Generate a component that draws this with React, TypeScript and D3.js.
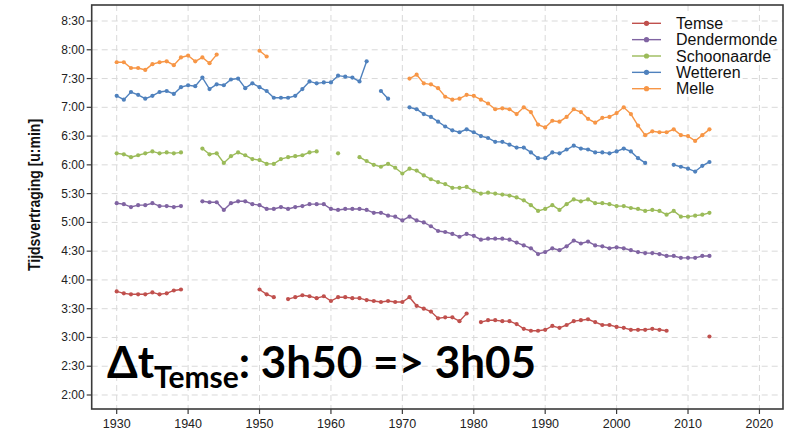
import React, { useEffect, useRef } from 'react';
import * as d3 from 'd3';

// tijdsvertraging in minuten, één waarde per jaar 1930..2013 (null = geen meting)
const startYear = 1930;
const endYear = 2013;

const temse = [
  228, 226, 225, 225, 225, 227, 225, 226, 229, 230,
  null, null, null, null, null, null, null, null, null, null,
  230, 225, 222, null, 220, 222, 224, 223, 221, 223,
  218, 222, 222, 221, 221, 219, 218, 217, 218, 217,
  217, 222, 213, 210, 207, 200, 201, 201, 197, 205,
  null, 196, 198, 198, 197, 197, 194, 189, 187, 187,
  188, 192, 190, 193, 197, 198, 199, 196, 193, 193,
  191, 190, 188, 188, 188, 189, 188, 187, null, null,
  null, null, null, 181,
];

const dendermonde = [
  320, 319, 316, 318, 318, 320, 317, 317, 316, 317,
  null, null, 322, 321, 321, 313, 320, 322, 322, 319,
  318, 314, 314, 316, 314, 316, 317, 319, 319, 319,
  314, 313, 314, 314, 314, 313, 310, 310, 307, 306,
  302, 306, 302, 300, 296, 291, 290, 288, 285, 288,
  286, 282, 283, 283, 283, 282, 279, 276, 273, 267,
  269, 273, 271, 275, 281, 278, 280, 276, 275, 273,
  274, 273, 271, 269, 268, 268, 267, 265, 265, 263,
  263, 263, 265, 265,
];

const schoonaarde = [
  372, 371, 368, 370, 372, 374, 372, 373, 372, 373,
  null, null, 377, 371, 372, 362, 369, 373, 370, 366,
  365, 361, 361, 366, 368, 369, 370, 373, 374, null,
  null, 372, null, null, 368, 364, 360, 358, 361, 357,
  351, 356, 354, 349, 345, 342, 340, 336, 336, 337,
  333, 330, 331, 330, 329, 328, 326, 323, 318, 312,
  314, 318, 313, 319, 324, 322, 324, 320, 320, 319,
  317, 317, 315, 314, 312, 313, 312, 308, 312, 306,
  306, 307, 308, 310,
];

const wetteren = [
  432, 428, 436, 433, 429, 432, 436, 437, 434, 441,
  443, 442, 451, 439, 444, 443, 449, 450, 440, 445,
  441, 437, 430, 430, 430, 432, 439, 447, 445, 446,
  446, 453, 452, 451, 447, 468, null, 437, 429, null,
  null, 420, 418, 413, 410, 405, 400, 396, 394, 397,
  394, 390, 388, 384, 384, 381, 378, 378, 373, 367,
  367, 373, 372, 376, 380, 377, 376, 373, 373, 372,
  374, 377, 374, 367, 362, null, null, null, 360, 358,
  356, 353, 359, 363,
];

const melle = [
  467, 467, 461, 461, 459, 465, 467, 468, 464, 472,
  474, 468, 472, 466, 475, null, null, null, null, null,
  479, 473, null, null, null, null, null, null, null, null,
  null, null, null, null, null, null, null, null, null, null,
  null, 450, 454, 445, 444, 440, 431, 428, 429, 433,
  432, 428, 424, 418, 419, 418, 413, 420, 415, 402,
  399, 406, 405, 410, 418, 415, 408, 404, 409, 410,
  414, 420, 413, 401, 391, 395, 394, 394, 397, 391,
  390, 385, 391, 397,
];

const stations = ['Temse', 'Dendermonde', 'Schoonaarde', 'Wetteren', 'Melle'];
const stationValues = [temse, dendermonde, schoonaarde, wetteren, melle];
const stationColors = ['#C0504D', '#8064A2', '#9BBB59', '#4F81BD', '#F79646'];

const xTicks = [1930, 1940, 1950, 1960, 1970, 1980, 1990, 2000, 2010, 2020];
const yTicks = [120, 150, 180, 210, 240, 270, 300, 330, 360, 390, 420, 450, 480, 510];

const fmt = (m) => `${Math.floor(m / 60)}:${String(m % 60).padStart(2, '0')}`;

export default function App() {
  const svgRef = useRef(null);

  useEffect(() => {
    const svg = d3.select(svgRef.current);
    svg.selectAll('*').remove();

    const left = 91.7, right = 783, top = 5, bottom = 409;
    const x = d3.scaleLinear().domain([1926.5, 2023.3]).range([left, right]);
    const y = d3.scaleLinear().domain([105.4, 526.7]).range([bottom, top]);
    const years = d3.range(startYear, endYear + 1);

    // grid
    const grid = svg.append('g');
    grid.selectAll('.hg').data(yTicks).enter().append('line')
      .attr('x1', left).attr('x2', right)
      .attr('y1', d => y(d)).attr('y2', d => y(d))
      .attr('stroke', '#d9d9d9').attr('stroke-dasharray', '6,4');
    grid.selectAll('.vg').data(xTicks).enter().append('line')
      .attr('y1', top).attr('y2', bottom)
      .attr('x1', d => x(d)).attr('x2', d => x(d))
      .attr('stroke', '#d9d9d9').attr('stroke-dasharray', '6,4');

    // annotation
    const ann = svg.append('text')
      .attr('x', 107).attr('y', 378)
      .attr('font-family', 'Lato, "Open Sans", sans-serif')
      .attr('font-weight', 'bold').attr('font-size', 44).attr('fill', '#000');
    ann.append('tspan').text('Δt');
    ann.append('tspan').attr('font-size', 30).attr('dy', 10).text('Temse');
    ann.append('tspan').attr('dy', -10).text(': 3h50 => 3h05');

    // series
    stations.forEach((name, i) => {
      const pts = years.map((yr, j) => ({ yr, v: stationValues[i][j] }));
      const line = d3.line()
        .defined(d => d.v != null)
        .x(d => x(d.yr)).y(d => y(d.v));
      const g = svg.append('g');
      g.append('path').datum(pts)
        .attr('d', line).attr('fill', 'none')
        .attr('stroke', stationColors[i]).attr('stroke-width', 1.4);
      g.selectAll('circle').data(pts.filter(d => d.v != null)).enter().append('circle')
        .attr('cx', d => x(d.yr)).attr('cy', d => y(d.v)).attr('r', 2.1)
        .attr('fill', stationColors[i]);
    });

    // legend
    const lg = svg.append('g').attr('font-family', '"Liberation Sans", Arial, sans-serif');
    stations.forEach((name, i) => {
      const cy = 23.3 + i * 16.35;
      const row = lg.append('g');
      const bg = row.append('rect').attr('fill', '#fff');
      row.append('line').attr('x1', 632).attr('x2', 661).attr('y1', cy).attr('y2', cy)
        .attr('stroke', stationColors[i]).attr('stroke-width', 1.4);
      row.append('circle').attr('cx', 646.5).attr('cy', cy).attr('r', 2.6).attr('fill', stationColors[i]);
      const t = row.append('text').attr('x', 676).attr('y', cy + 5.5)
        .attr('font-size', 16).attr('fill', '#111').text(name);
      const w = t.node().getComputedTextLength();
      bg.attr('x', 628).attr('y', cy - 8.2).attr('width', 676 - 628 + w + 2).attr('height', 16.4);
    });

    // panel border
    svg.append('rect').attr('x', left).attr('y', top)
      .attr('width', right - left).attr('height', bottom - top)
      .attr('fill', 'none').attr('stroke', '#3a3a3a').attr('stroke-width', 1.6);

    // axes
    const ax = svg.append('g').attr('font-family', '"Liberation Sans", Arial, sans-serif').attr('fill', '#222');
    ax.selectAll('.yt').data(yTicks).enter().append('line')
      .attr('x1', left - 5).attr('x2', left).attr('y1', d => y(d)).attr('y2', d => y(d))
      .attr('stroke', '#3a3a3a').attr('stroke-width', 1.2);
    ax.selectAll('.yl').data(yTicks).enter().append('text')
      .attr('x', left - 7).attr('y', d => y(d) + 4).attr('text-anchor', 'end')
      .attr('font-size', 12).text(d => fmt(d));
    ax.selectAll('.xt').data(xTicks).enter().append('line')
      .attr('y1', bottom).attr('y2', bottom + 5).attr('x1', d => x(d)).attr('x2', d => x(d))
      .attr('stroke', '#3a3a3a').attr('stroke-width', 1.2);
    ax.selectAll('.xl').data(xTicks).enter().append('text')
      .attr('x', d => x(d)).attr('y', 428).attr('text-anchor', 'middle')
      .attr('font-size', 12.5).text(d => d);

    svg.append('text')
      .attr('transform', 'translate(40,195) rotate(-90) scale(1,1.2)')
      .attr('text-anchor', 'middle')
      .attr('font-family', '"Liberation Sans", Arial, sans-serif')
      .attr('font-weight', 'bold').attr('font-size', 14).attr('fill', '#111')
      .text('Tijdsvertraging [u:min]');
  }, []);

  return (
    <svg ref={svgRef} width={798} height={434}
      style={{ position: 'absolute', left: 0, top: 0, background: '#fff' }} />
  );
}
